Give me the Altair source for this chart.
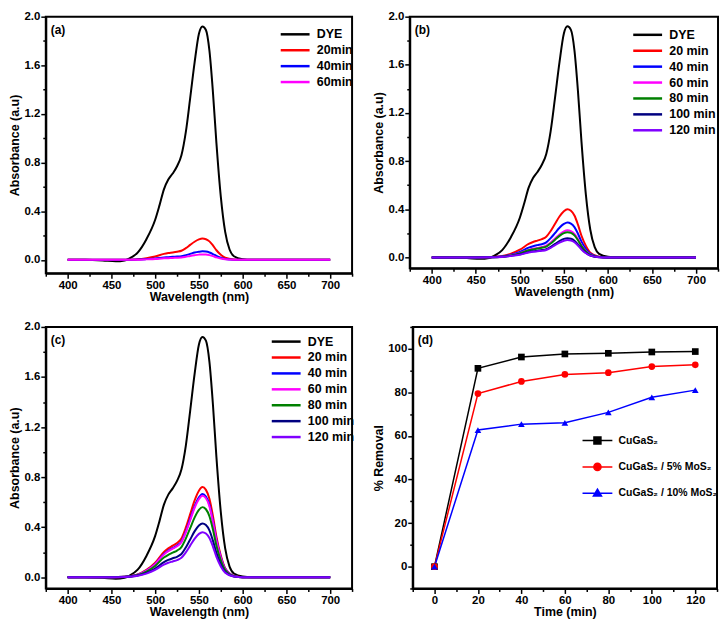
import altair as alt
import pandas as pd

FONT = "Liberation Sans"

# ---------------- spectra data ----------------
wl_dye = [400, 420, 440, 455, 465, 470, 480, 490, 500, 505, 510, 515, 520, 525, 530,
          535, 540, 545, 550, 554, 558, 562, 566, 570, 575, 580, 585, 590, 600, 610, 700]
abs_dye = [0, 0, -0.005, -0.012, -0.005, 0.01, 0.06, 0.17, 0.33, 0.45, 0.58, 0.66, 0.71, 0.77, 0.86,
           1.05, 1.33, 1.62, 1.86, 1.92, 1.89, 1.72, 1.38, 0.96, 0.52, 0.23, 0.085, 0.03, 0.005, 0, 0]

wl_t = [400, 450, 465, 480, 490, 500, 510, 515, 520, 525, 530, 535, 540, 545, 550,
        554, 558, 562, 566, 570, 575, 580, 590, 600, 700]

# panel (a)
a_20 = [0, 0, 0.001, 0.005, 0.014, 0.028, 0.049, 0.056, 0.061, 0.067, 0.075, 0.096, 0.123, 0.149, 0.168,
        0.175, 0.170, 0.152, 0.119, 0.079, 0.042, 0.018, 0.003, 0, 0]
a_40 = [0, 0, 0, 0.002, 0.006, 0.011, 0.020, 0.022, 0.025, 0.027, 0.030, 0.039, 0.049, 0.060, 0.067,
        0.070, 0.068, 0.061, 0.048, 0.032, 0.017, 0.007, 0.001, 0, 0]
a_60 = [0, 0, 0, 0.001, 0.004, 0.007, 0.013, 0.014, 0.016, 0.017, 0.019, 0.025, 0.032, 0.038, 0.043,
        0.045, 0.044, 0.039, 0.031, 0.020, 0.011, 0.005, 0.001, 0, 0]

# panel (b)
b_20 = [0, 0, 0.002, 0.012, 0.032, 0.064, 0.112, 0.128, 0.140, 0.152, 0.172, 0.220, 0.280, 0.340, 0.384,
        0.400, 0.388, 0.348, 0.272, 0.180, 0.096, 0.040, 0.006, 0, 0]
b_40 = [0, 0, 0.001, 0.009, 0.023, 0.046, 0.081, 0.093, 0.102, 0.110, 0.125, 0.160, 0.203, 0.247, 0.278,
        0.290, 0.281, 0.252, 0.197, 0.131, 0.070, 0.029, 0.004, 0, 0]
b_60 = [0, 0, 0.001, 0.007, 0.018, 0.036, 0.063, 0.072, 0.079, 0.086, 0.097, 0.124, 0.158, 0.191, 0.216,
        0.225, 0.218, 0.196, 0.153, 0.101, 0.054, 0.023, 0.003, 0, 0]
b_80 = [0, 0, 0.001, 0.006, 0.017, 0.034, 0.059, 0.067, 0.074, 0.080, 0.090, 0.116, 0.147, 0.179, 0.202,
        0.210, 0.204, 0.183, 0.143, 0.095, 0.050, 0.021, 0.003, 0, 0]
b_100 = [0, 0, 0.001, 0.005, 0.013, 0.026, 0.045, 0.051, 0.056, 0.061, 0.069, 0.088, 0.112, 0.136, 0.154,
         0.160, 0.155, 0.139, 0.109, 0.072, 0.038, 0.016, 0.002, 0, 0]
b_120 = [0, 0, 0.001, 0.004, 0.012, 0.023, 0.041, 0.046, 0.051, 0.055, 0.062, 0.080, 0.102, 0.123, 0.139,
         0.145, 0.141, 0.126, 0.099, 0.065, 0.035, 0.015, 0.002, 0, 0]

# panel (c)
c_20 = [0, 0, 0.004, 0.022, 0.058, 0.115, 0.202, 0.230, 0.252, 0.274, 0.310, 0.396, 0.504, 0.612, 0.691,
        0.720, 0.698, 0.626, 0.490, 0.324, 0.173, 0.072, 0.011, 0, 0]
c_40 = [0, 0, 0.003, 0.020, 0.053, 0.106, 0.186, 0.213, 0.233, 0.253, 0.286, 0.366, 0.466, 0.565, 0.638,
        0.665, 0.645, 0.579, 0.452, 0.299, 0.160, 0.067, 0.010, 0, 0]
c_60 = [0, 0, 0.003, 0.020, 0.052, 0.104, 0.182, 0.208, 0.228, 0.247, 0.280, 0.358, 0.455, 0.553, 0.624,
        0.650, 0.631, 0.566, 0.442, 0.293, 0.156, 0.065, 0.010, 0, 0]
c_80 = [0, 0, 0.003, 0.017, 0.045, 0.090, 0.157, 0.179, 0.196, 0.213, 0.241, 0.308, 0.392, 0.476, 0.538,
        0.560, 0.543, 0.487, 0.381, 0.252, 0.134, 0.056, 0.008, 0, 0]
c_100 = [0, 0, 0.002, 0.013, 0.034, 0.069, 0.120, 0.138, 0.151, 0.163, 0.185, 0.237, 0.301, 0.366, 0.413,
         0.430, 0.417, 0.374, 0.292, 0.194, 0.103, 0.043, 0.006, 0, 0]
c_120 = [0, 0, 0.002, 0.011, 0.029, 0.058, 0.101, 0.115, 0.126, 0.137, 0.155, 0.198, 0.252, 0.306, 0.346,
         0.360, 0.349, 0.313, 0.245, 0.162, 0.086, 0.036, 0.005, 0, 0]

labels_a = ["DYE", "20min", "40min", "60min"]
labels_bc = ["DYE", "20 min", "40 min", "60 min", "80 min", "100 min", "120 min"]
colors_a = ["#000000", "#ff0000", "#0000ff", "#ff00ff"]
colors_bc = ["#000000", "#ff0000", "#0000ff", "#ff00ff", "#008000", "#000080", "#8000ff"]

# ---------------- removal data ----------------
time_min = [0, 20, 40, 60, 80, 100, 120]
rem_cugas2 = [0, 91.0, 96.2, 97.6, 97.9, 98.5, 98.7]
rem_5 = [0, 79.4, 85.0, 88.2, 89.0, 91.8, 92.6]
rem_10 = [0, 62.7, 65.4, 66.0, 70.8, 77.7, 81.0]
labels_d = ["CuGaS\u2082", "CuGaS\u2082 / 5% MoS\u2082", "CuGaS\u2082 / 10% MoS\u2082"]
colors_d = ["#000000", "#ff0000", "#0000ff"]

LINE_SYM = "M-1,0H8.67"


def major_minor(test):
    return {"condition": {"test": test, "value": 5}, "value": 3}


def spectrum_panel(series, labels, colors, letter, w, h, ymin, lx, ly):
    rows = []
    for name, wl, vals in series:
        for x, y in zip(wl, vals):
            rows.append({"series": name, "wl": x, "A": y})
    df = pd.DataFrame(rows)
    xmaj = "(datum.value % 50 == 0 && datum.value >= 400 && datum.value <= 700)"
    ymaj = "(round(datum.value*10) % 4 == 0)"
    x = alt.X("wl:Q", scale=alt.Scale(domain=[375, 725], nice=False, zero=False),
              axis=alt.Axis(values=list(range(375, 726, 25)), title="Wavelength (nm)", labelFlush=False,
                            tickSize=major_minor(xmaj), titlePadding=0,
                            labelExpr=xmaj + " ? datum.label : ''"))
    y = alt.Y("A:Q", scale=alt.Scale(domain=[ymin, 2.0], nice=False, zero=False),
              axis=alt.Axis(values=[round(0.2 * i, 1) for i in range(11)], title="Absorbance (a.u)",
                            tickSize=major_minor(ymaj),
                            labelExpr=ymaj + " ? format(datum.value, '.1f') : ''"))
    lines = alt.Chart(df).mark_line(strokeWidth=2, interpolate="monotone").encode(
        x=x, y=y,
        color=alt.Color("series:N", sort=labels, scale=alt.Scale(domain=labels, range=colors),
                        legend=alt.Legend(orient="none", legendX=lx, legendY=ly, title=None,
                                          symbolType=LINE_SYM, symbolSize=36, symbolStrokeWidth=2.5,
                                          labelOffset=27, labelFont=FONT, labelFontSize=12.5,
                                          labelFontWeight="bold", labelColor="black", rowPadding=3,
                                          padding=0)),
    )
    txt = alt.Chart(pd.DataFrame({"t": [letter]})).mark_text(
        align="left", baseline="middle", font=FONT, fontSize=12, fontWeight="bold", color="black"
    ).encode(text="t:N", x=alt.value(5), y=alt.value(13))
    return alt.layer(lines, txt).properties(width=w, height=h)


pa = spectrum_panel([("DYE", wl_dye, abs_dye), ("20min", wl_t, a_20), ("40min", wl_t, a_40),
                     ("60min", wl_t, a_60)], labels_a, colors_a, "(a)", 308, 258, -0.11, 233, 11.5)
pb = spectrum_panel([("DYE", wl_dye, abs_dye), ("20 min", wl_t, b_20), ("40 min", wl_t, b_40),
                     ("60 min", wl_t, b_60), ("80 min", wl_t, b_80), ("100 min", wl_t, b_100),
                     ("120 min", wl_t, b_120)], labels_bc, colors_bc, "(b)", 310, 253, -0.09, 221.5, 12)
pc = spectrum_panel([("DYE", wl_dye, abs_dye), ("20 min", wl_t, c_20), ("40 min", wl_t, c_40),
                     ("60 min", wl_t, c_60), ("80 min", wl_t, c_80), ("100 min", wl_t, c_100),
                     ("120 min", wl_t, c_120)], labels_bc, colors_bc, "(c)", 308, 263, -0.09, 224, 8.5)

# ---------------- panel (d) ----------------
rows = []
for name, vals in zip(labels_d, [rem_cugas2, rem_5, rem_10]):
    for t, v in zip(time_min, vals):
        rows.append({"series": name, "t": t, "r": v})
dfd = pd.DataFrame(rows)

dxmaj = "(datum.value % 20 == 0 && datum.value >= 0 && datum.value <= 120)"
dymaj = "(datum.value % 20 == 0 && datum.value >= 0 && datum.value <= 100)"
xd = alt.X("t:Q", scale=alt.Scale(domain=[-10, 130], nice=False, zero=False),
           axis=alt.Axis(values=list(range(-10, 131, 10)), title="Time (min)", labelFlush=False,
                         tickSize=major_minor(dxmaj), titlePadding=0,
                         labelExpr=dxmaj + " ? datum.label : ''"))
yd = alt.Y("r:Q", scale=alt.Scale(domain=[-10, 110], nice=False, zero=False),
           axis=alt.Axis(values=list(range(-10, 111, 10)), title="% Removal",
                         tickSize=major_minor(dymaj),
                         labelExpr=dymaj + " ? datum.label : ''"))
cscale = alt.Scale(domain=labels_d, range=colors_d)
d_lines = alt.Chart(dfd).mark_line(strokeWidth=1.5).encode(
    x=xd, y=yd, color=alt.Color("series:N", scale=cscale, legend=None))
d_pts = alt.Chart(dfd).mark_point(filled=True, size=45, opacity=1).encode(
    x=xd, y=yd, color=alt.Color("series:N", scale=cscale, legend=None),
    shape=alt.Shape("series:N", scale=alt.Scale(domain=labels_d, range=["square", "circle", "triangle-up"]),
                    legend=None))
leg_paths = [
    "M-1,0H9M2.83,-1.17H5.17V1.17H2.83Z",
    "M-1,0H9M5.2,0A1.2,1.2,0,1,1,2.8,0A1.2,1.2,0,1,1,5.2,0Z",
    "M-1,0H9M4,-1.35L5.35,0.95H2.65Z",
]
dleg = alt.Legend(orient="none", legendX=168.5, legendY=109, title=None, symbolSize=36,
                  symbolStrokeWidth=1.5, labelOffset=28, labelFont=FONT, labelFontSize=10.5,
                  labelFontWeight="bold", labelColor="black", rowPadding=12.5, padding=0, labelLimit=300)
d_leg = alt.Chart(dfd).transform_filter("false").mark_point(filled=True, opacity=1).encode(
    color=alt.Color("series:N", scale=alt.Scale(domain=labels_d, range=colors_d), legend=dleg),
    stroke=alt.Stroke("series:N", scale=alt.Scale(domain=labels_d, range=colors_d), legend=dleg),
    shape=alt.Shape("series:N", scale=alt.Scale(domain=labels_d, range=leg_paths), legend=dleg),
)
d_txt = alt.Chart(pd.DataFrame({"t": ["(d)"]})).mark_text(
    align="left", baseline="middle", font=FONT, fontSize=12, fontWeight="bold", color="black"
).encode(text="t:N", x=alt.value(5), y=alt.value(13))
pd_ = alt.layer(d_lines, d_pts, d_leg, d_txt).resolve_scale(
    color="independent", shape="independent", stroke="independent").properties(width=306, height=263)

row1 = alt.hconcat(pa, pb, spacing=18).resolve_scale(color="independent", shape="independent", stroke="independent")
row2 = alt.hconcat(pc, pd_, spacing=15).resolve_scale(color="independent", shape="independent", stroke="independent")
chart = alt.vconcat(row1, row2, spacing=16).resolve_scale(
    color="independent", shape="independent", stroke="independent"
).properties(
    padding=0, background="white"
).configure_view(
    stroke="black", strokeWidth=2
).configure_axis(
    domainColor="black", domainWidth=2, tickColor="black", tickWidth=1.5,
    labelFont=FONT, labelFontSize=11.5, labelFontWeight="bold", labelColor="black", labelPadding=1,
    titleFont=FONT, titleFontSize=12.5, titleFontWeight="bold", titleColor="black", titlePadding=2,
    grid=False
)

chart.save("out.html", embed_options={"renderer": "svg", "actions": False})
